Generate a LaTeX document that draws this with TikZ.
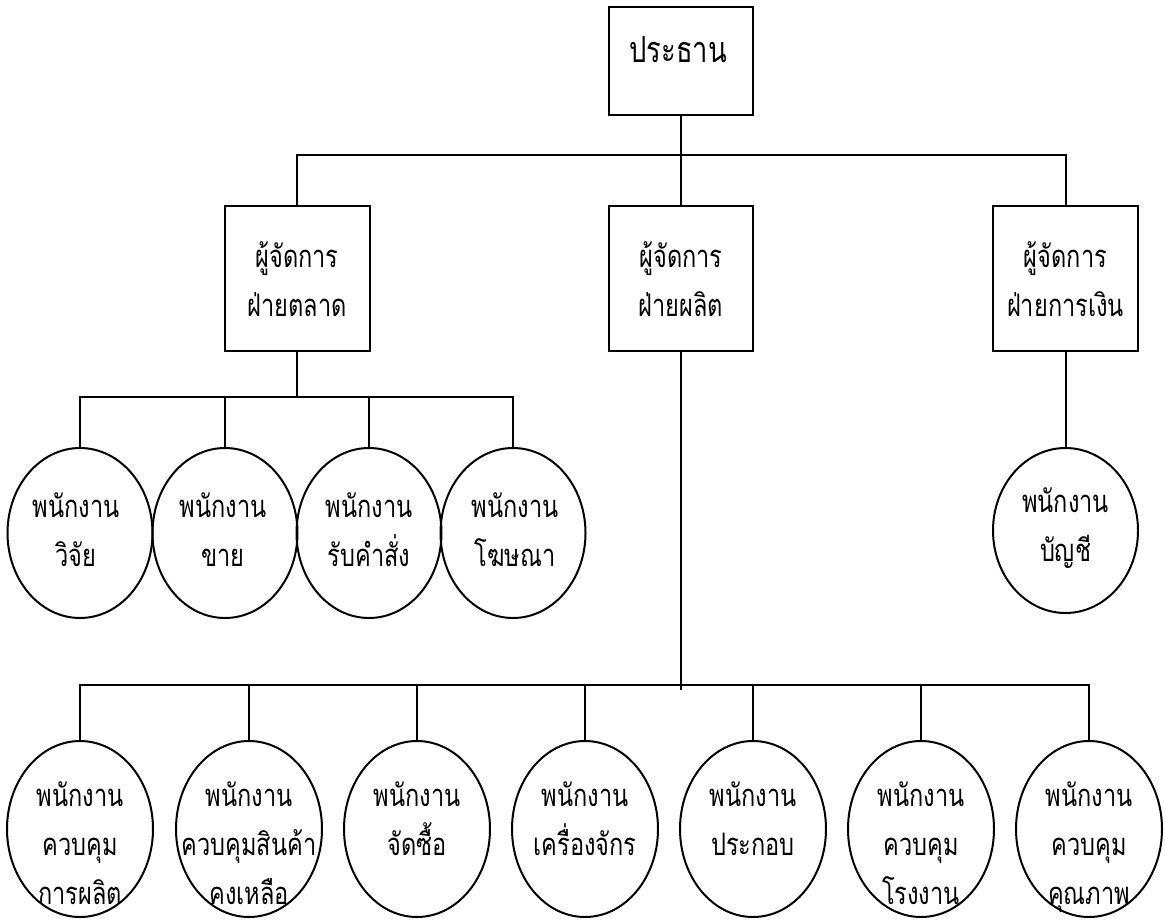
\documentclass[tikz,border=0pt]{standalone}
\usepackage{fontspec}
\newfontfamily\thai[Script=Thai,FakeStretch=0.76]{Loma}
\usetikzlibrary{shapes.geometric}

\tikzset{
  wire/.style={line width=2pt},
  mgrbox/.style={draw, line width=2pt, rectangle, inner sep=0pt,
                 minimum width=145pt, minimum height=145pt},
  staff/.style={draw, line width=2pt, ellipse, inner sep=0pt,
                minimum width=145pt, minimum height=170pt},
  lowstaff/.style={staff, minimum width=146pt, minimum height=176pt},
  lbl/.style={inner sep=0pt, align=center,
              font={\thai\fontsize{31}{49}\selectfont}},
  toplbl/.style={lbl, font={\thai\fontsize{36}{49}\selectfont}}
}

\begin{document}
\begin{tikzpicture}[x=1pt, y=-1pt]
\useasboundingbox (0,0) rectangle (1165,922);

% president
\node[mgrbox, minimum width=144pt, minimum height=108pt] (pres) at (681,61) {};
\node[toplbl] (pres-t) at (678,50) {ประธาน};

% department managers
\node[mgrbox] (mk) at (297,278.5) {};
\node[mgrbox, minimum width=144pt] (pd) at (681,278.5) {};
\node[mgrbox] (fn) at (1065.5,278.5) {};
\node[lbl] (mk-t) at (297,279) {ผู้จัดการ\\ฝ่ายตลาด};
\node[lbl] (pd-t) at (681,279) {ผู้จัดการ\\ฝ่ายผลิต};
\node[lbl] (fn-t) at (1065.5,279) {ผู้จัดการ\\ฝ่ายการเงิน};

% marketing staff
\node[staff] (m1) at (80,533) {};
\node[staff] (m2) at (225,533) {};
\node[staff] (m3) at (369,533) {};
\node[staff] (m4) at (513,533) {};
\node[lbl] (m1-t) at (76,530) {พนักงาน\\วิจัย};
\node[lbl] (m2-t) at (223,530) {พนักงาน\\ขาย};
\node[lbl] (m3-t) at (369,530) {พนักงาน\\รับคำสั่ง};
\node[lbl] (m4-t) at (515,530) {พนักงาน\\โฆษณา};

% finance staff
\node[staff, minimum height=165pt] (a1) at (1065.5,530.5) {};
\node[lbl] (a1-t) at (1065.5,528) {พนักงาน\\บัญชี};

% production staff
\node[lowstaff] (p1) at (80,829) {};
\node[lowstaff] (p2) at (249,829) {};
\node[lowstaff] (p3) at (417,829) {};
\node[lowstaff] (p4) at (585,829) {};
\node[lowstaff] (p5) at (753,829) {};
\node[lowstaff] (p6) at (921,829) {};
\node[lowstaff] (p7) at (1089,829) {};
\node[lbl] (p1-t) at (80,843) {พนักงาน\\ควบคุม\\การผลิต};
\node[lbl] (p2-t) at (249,843) {พนักงาน\\ควบคุมสินค้า\\คงเหลือ};
\node[lbl] (p3-t) at (417,819) {พนักงาน\\จัดซื้อ};
\node[lbl] (p4-t) at (585,819) {พนักงาน\\เครื่องจักร};
\node[lbl] (p5-t) at (753,819) {พนักงาน\\ประกอบ};
\node[lbl] (p6-t) at (921,843) {พนักงาน\\ควบคุม\\โรงงาน};
\node[lbl] (p7-t) at (1089,847) {พนักงาน\\ควบคุม\\คุณภาพ};

% junction points of the buses
\coordinate (top-bus) at (681,155);
\coordinate (mk-bus) at (297,397);
\coordinate (pd-bus) at (681,685);
\coordinate (pd-end) at (681,690);

% president to managers
\draw[wire] (pres.south) -- (top-bus);
\draw[wire] (mk.north) -- (mk.north |- top-bus) -- (fn.north |- top-bus) -- (fn.north);
\draw[wire] (pd.north) -- (pd.north |- top-bus);

% marketing branch
\draw[wire] (mk.south) -- (mk-bus);
\draw[wire] (m1.north) -- (m1.north |- mk-bus) -- (m4.north |- mk-bus) -- (m4.north);
\draw[wire] (m2.north) -- (m2.north |- mk-bus);
\draw[wire] (m3.north) -- (m3.north |- mk-bus);

% finance branch
\draw[wire] (fn.south) -- (a1.north);

% production branch
\draw[wire] (pd.south) -- (pd-end);
\draw[wire] (p1.north) -- (p1.north |- pd-bus) -- (p7.north |- pd-bus) -- (p7.north);
\foreach \n in {p2,p3,p4,p5,p6}
  \draw[wire] (\n.north) -- (\n.north |- pd-bus);
\end{tikzpicture}
\end{document}
